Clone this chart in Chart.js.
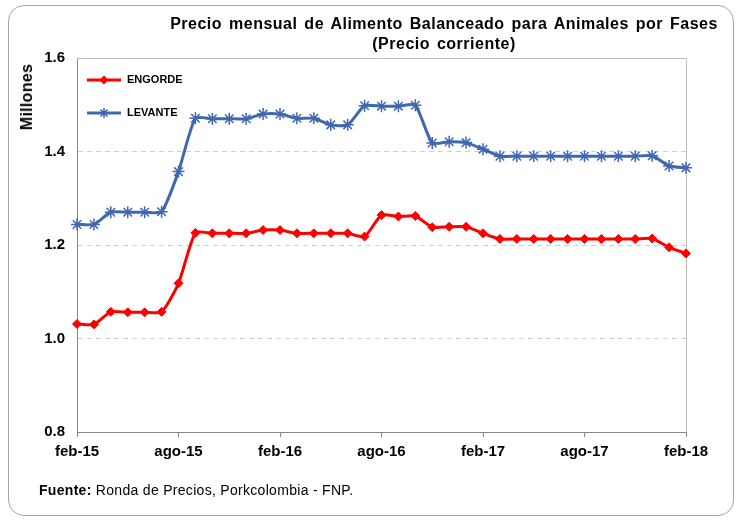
<!DOCTYPE html>
<html>
<head>
<meta charset="utf-8">
<script src="https://cdn.jsdelivr.net/npm/chart.js@4"></script>
<style>
  body { margin: 0; background: #fff; font-family: "Liberation Sans", Arial, sans-serif; }
  #wrap { position: relative; width: 742px; height: 521px; }
  #frame { position: absolute; left: 8px; top: 5px; width: 726px; height: 511px;
           border: 1px solid #a6a6a6; border-radius: 16px; box-sizing: border-box; }
  canvas { position: absolute; left: 0; top: 0; }
  .title { position: absolute; left: 444px; transform: translateX(-50%); white-space: nowrap;
           font-weight: bold; font-size: 16px; letter-spacing: 0.5px; word-spacing: 2px; color: #000; }
  #yt { position: absolute; left: 27px; top: 97px; transform: translate(-50%, -50%) rotate(-90deg);
        font-weight: bold; font-size: 16px; letter-spacing: 0.3px; white-space: nowrap; }
  #src { position: absolute; left: 39px; top: 482px; font-size: 14px; letter-spacing: 0.3px; white-space: nowrap; }
</style>
</head>
<body>
<div id="wrap">
  <div id="frame"></div>
  <canvas id="chart" width="742" height="521"></canvas>
  <div class="title" style="top:15px">Precio mensual de Alimento Balanceado para Animales por Fases</div>
  <div class="title" style="top:35px">(Precio corriente)</div>
  <div id="yt">Millones</div>
  <div id="src"><b>Fuente:</b> Ronda de Precios, Porkcolombia - FNP.</div>
</div>
<script>
const months = ['feb','mar','abr','may','jun','jul','ago','sep','oct','nov','dic','ene'];
const labels = [];
for (let i = 0; i < 37; i++) {
    const yr = 15 + Math.floor((i + 1) / 12);
    labels.push(months[i % 12] + '-' + yr);
}

const engorde = [1.031, 1.030, 1.057, 1.056, 1.056, 1.057, 1.118, 1.226, 1.225, 1.225, 1.225, 1.232,
                 1.232, 1.225, 1.225, 1.225, 1.225, 1.218, 1.264, 1.261, 1.262, 1.238, 1.239, 1.239,
                 1.225, 1.213, 1.213, 1.213, 1.213, 1.213, 1.213, 1.213, 1.213, 1.213, 1.214, 1.195, 1.182];
const levante = [1.244, 1.244, 1.270, 1.270, 1.270, 1.271, 1.357, 1.471, 1.470, 1.470, 1.470, 1.480,
                 1.480, 1.471, 1.471, 1.457, 1.457, 1.498, 1.497, 1.497, 1.499, 1.418, 1.421, 1.419,
                 1.405, 1.390, 1.390, 1.390, 1.390, 1.390, 1.390, 1.390, 1.390, 1.390, 1.391, 1.369, 1.365];

const yTicks = [0.8, 1.0, 1.2, 1.4, 1.6];

const red = '#ff0000';
const blue = '#3f68b0';

// legend drawn inside the plot, top-left
const insideLegend = {
    id: 'insideLegend',
    afterDraw(chart) {
        const c = chart.ctx;
        const a = chart.chartArea;
        const items = [
            { text: 'ENGORDE', color: red, style: 'rectRot', r: 3.5, y: a.top + 22 },
            { text: 'LEVANTE', color: blue, style: 'star', r: 5, y: a.top + 55 }
        ];
        c.save();
        items.forEach(it => {
            c.strokeStyle = it.color;
            c.lineWidth = 3;
            c.beginPath();
            c.moveTo(a.left + 10, it.y);
            c.lineTo(a.left + 44, it.y);
            c.stroke();
            c.fillStyle = it.color;
            c.lineWidth = 1.5;
            Chart.helpers.drawPoint(c, { pointStyle: it.style, radius: it.r, borderWidth: 1.5 }, a.left + 27, it.y);
            c.fillStyle = '#000';
            c.font = 'bold 11px "Liberation Sans", Arial';
            c.textBaseline = 'middle';
            c.fillText(it.text, a.left + 50, it.y);
        });
        c.restore();
    }
};

// light frame around plot (top and right)
const plotFrame = {
    id: 'plotFrame',
    beforeDatasetsDraw(chart) {
        const c = chart.ctx;
        const a = chart.chartArea;
        c.save();
        c.strokeStyle = '#bfbfbf';
        c.lineWidth = 1;
        c.beginPath();
        c.moveTo(a.left, a.top + 0.5);
        c.lineTo(a.right + 0.5, a.top + 0.5);
        c.lineTo(a.right + 0.5, a.bottom);
        c.stroke();
        c.restore();
    }
};

new Chart(document.getElementById('chart'), {
    type: 'line',
    data: {
        labels: labels,
        datasets: [{
            label: 'ENGORDE',
            data: engorde,
            borderColor: red,
            backgroundColor: red,
            borderWidth: 3,
            pointStyle: 'rectRot',
            pointRadius: 4.5,
            pointBorderWidth: 1,
            tension: 0.2
        }, {
            label: 'LEVANTE',
            data: levante,
            borderColor: blue,
            backgroundColor: blue,
            borderWidth: 3,
            pointStyle: 'star',
            pointRadius: 6,
            pointBorderWidth: 1.5,
            tension: 0.2
        }]
    },
    options: {
        responsive: false,
        animation: false,
        layout: { padding: { top: 58, right: 56, bottom: 59, left: 0 } },
        plugins: {
            legend: { display: false },
            tooltip: { enabled: false }
        },
        scales: {
            x: {
                offset: false,
                afterFit: s => { s.height = 30; },
                border: { color: '#868686', width: 1 },
                grid: {
                    drawOnChartArea: false,
                    drawTicks: true,
                    tickLength: 5,
                    color: ctx => ctx.index % 6 === 0 ? '#868686' : 'rgba(0,0,0,0)'
                },
                ticks: {
                    autoSkip: false,
                    maxRotation: 0,
                    padding: 6,
                    color: '#000',
                    font: { family: '"Liberation Sans", Arial', size: 15, weight: 'bold' },
                    callback: (v, i) => i % 6 === 0 ? labels[i] : ''
                }
            },
            y: {
                min: 0.8,
                max: 1.6,
                afterFit: s => { s.width = 77; },
                afterBuildTicks: s => { s.ticks = yTicks.map(v => ({ value: v })); },
                border: { color: '#868686', width: 1, dash: [5, 4] },
                grid: {
                    drawTicks: false,
                    color: ctx => (ctx.tick && (ctx.tick.value === 0.8 || ctx.tick.value === 1.6)) ? 'rgba(0,0,0,0)' : '#cfcfcf',
                    lineWidth: 1
                },
                ticks: {
                    padding: 12,
                    color: '#000',
                    font: { family: '"Liberation Sans", Arial', size: 15, weight: 'bold' },
                    callback: v => Number(v).toFixed(1)
                }
            }
        }
    },
    plugins: [plotFrame, insideLegend]
});
</script>
</body>
</html>
